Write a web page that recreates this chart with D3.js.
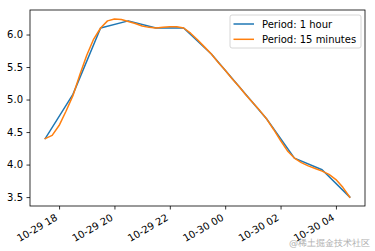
<!DOCTYPE html>
<html lang="en">
<head>
    <meta charset="UTF-8">
    <title>Period resample</title>
    <script src="https://d3js.org/d3.v7.min.js"></script>
    <style>
        body { margin: 0; background: #fff; }
        text { font-family: "DejaVu Sans", sans-serif; }
    </style>
</head>
<body>
<script>
    // hourly series, starting 10-29 17:30
    var hourlyValues = [4.4, 5.08, 6.1, 6.21, 6.1, 6.1, 5.7, 5.2, 4.7, 4.1, 3.92, 3.5];
    // 15 minute series, same start
    var quarterValues = [
        4.40, 4.45, 4.60, 4.82, 5.06, 5.38, 5.68, 5.93, 6.10, 6.21,
        6.24, 6.23, 6.20, 6.17, 6.13, 6.11, 6.10, 6.11, 6.12, 6.12,
        6.10, 6.02, 5.92, 5.81, 5.70, 5.57, 5.45, 5.32, 5.20, 5.07,
        4.95, 4.83, 4.70, 4.54, 4.37, 4.21, 4.10, 4.03, 3.98, 3.94,
        3.90, 3.85, 3.77, 3.65, 3.50
    ];
    var seriesNames = ["Period: 1 hour", "Period: 15 minutes"];
    var colors = ["#1f77b4", "#ff7f0e"];
    var startTime = Date.UTC(2020, 9, 29, 17, 30);

    var width = 375, height = 251;
    var margin = {left: 30, right: 10, top: 10, bottom: 45};
    var fs = 10;

    var hourly = hourlyValues.map(function (v, i) {
        return {t: new Date(startTime + i * 3600e3), v: v};
    });
    var quarter = quarterValues.map(function (v, i) {
        return {t: new Date(startTime + i * 900e3), v: v};
    });

    var all = hourly.concat(quarter);
    var tExt = d3.extent(all, function (d) { return +d.t; });
    var vExt = d3.extent(all, function (d) { return d.v; });
    var tPad = (tExt[1] - tExt[0]) * 0.05, vPad = (vExt[1] - vExt[0]) * 0.05;

    var x = d3.scaleUtc()
        .domain([new Date(tExt[0] - tPad), new Date(tExt[1] + tPad)])
        .range([margin.left, width - margin.right]);
    var y = d3.scaleLinear()
        .domain([vExt[0] - vPad, vExt[1] + vPad])
        .range([height - margin.bottom, margin.top]);

    var svg = d3.select("body").append("svg")
        .attr("width", width)
        .attr("height", height);

    var line = d3.line()
        .x(function (d) { return x(d.t); })
        .y(function (d) { return y(d.v); });

    var plot = svg.append("g");
    [hourly, quarter].forEach(function (s, i) {
        plot.append("path")
            .datum(s)
            .attr("d", line)
            .attr("fill", "none")
            .attr("stroke", colors[i])
            .attr("stroke-width", 1.5)
            .attr("stroke-linejoin", "round")
            .attr("stroke-linecap", "square");
    });

    // axes
    var yAxis = svg.append("g")
        .attr("transform", "translate(" + margin.left + ",0)")
        .call(d3.axisLeft(y).tickValues([3.5, 4.0, 4.5, 5.0, 5.5, 6.0])
            .tickFormat(d3.format(".1f")).tickSize(3.5).tickPadding(3.5));
    yAxis.select(".domain").remove();
    yAxis.selectAll("text").attr("font-size", fs).attr("fill", "#000")
        .attr("font-family", "DejaVu Sans");

    var xAxis = svg.append("g")
        .attr("transform", "translate(0," + (height - margin.bottom) + ")")
        .call(d3.axisBottom(x).ticks(d3.utcHour.every(2))
            .tickFormat(d3.utcFormat("%m-%d %H")).tickSize(3.5));
    xAxis.select(".domain").remove();
    xAxis.selectAll("text")
        .attr("font-size", fs).attr("fill", "#000")
        .attr("font-family", "DejaVu Sans")
        .attr("text-anchor", "end")
        .attr("y", 0).attr("dy", 0)
        .attr("transform", "translate(-1.2,13.6) rotate(-30)");
    svg.selectAll(".tick line").attr("stroke", "#000").attr("stroke-width", 0.8);

    // frame
    svg.append("rect")
        .attr("x", margin.left).attr("y", margin.top)
        .attr("width", width - margin.left - margin.right)
        .attr("height", height - margin.top - margin.bottom)
        .attr("fill", "none").attr("stroke", "#000").attr("stroke-width", 0.8);

    // legend
    var lg = svg.append("g").attr("transform", "translate(230,15)");
    lg.append("rect")
        .attr("width", 131).attr("height", 33).attr("rx", 2)
        .attr("fill", "#fff").attr("fill-opacity", 0.8)
        .attr("stroke", "#ccc").attr("stroke-width", 0.8);
    seriesNames.forEach(function (name, i) {
        var yy = 9 + i * 15.3;
        lg.append("line")
            .attr("x1", 3.5).attr("x2", 24).attr("y1", yy).attr("y2", yy)
            .attr("stroke", colors[i]).attr("stroke-width", 1.5);
        lg.append("text")
            .attr("x", 32).attr("y", yy + 3.6)
            .attr("font-size", fs).attr("fill", "#000")
            .text(name);
    });

    // watermark
    svg.append("text")
        .attr("x", 370).attr("y", 246)
        .attr("text-anchor", "end")
        .attr("font-size", 9)
        .attr("font-family", "Noto Sans CJK SC")
        .attr("fill", "#b0b0b0")
        .text("@稀土掘金技术社区");
</script>
</body>
</html>
